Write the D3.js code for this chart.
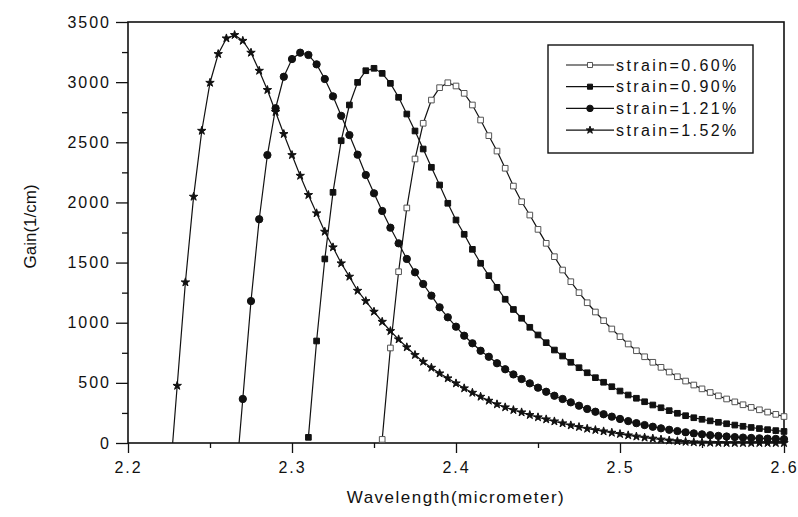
<!DOCTYPE html>
<html>
<head>
<meta charset="utf-8">
<script src="https://cdn.jsdelivr.net/npm/d3@7"></script>
<style>
  body { margin: 0; background: #fff; }
  text { font-family: "Liberation Sans", Arial, sans-serif; fill: #111; }
</style>
</head>
<body>
<div class="chart"></div>
<script>
// DATA
// ----------------------------
const seriesLabels = ['strain=0.60%', 'strain=0.90%', 'strain=1.21%', 'strain=1.52%']
// first wavelength of each curve, all curves sampled every 0.005 micrometer
const startWavelength = [2.355, 2.31, 2.265, 2.225]
const wavelengthStep = 0.005

const gain060 = [30, 790, 1424, 1954, 2361, 2658, 2851, 2954, 2995, 2968, 2907, 2810, 2685, 2555, 2427, 2284, 2136,
  2006, 1895, 1776, 1660, 1549, 1438, 1341, 1250, 1166, 1089, 1017, 948, 884, 823, 767, 717, 671, 629, 590, 551, 515, 482,
  450, 420, 392, 366, 342, 318, 296, 276, 257, 238, 220]
const gain090 = [47, 848, 1530, 2084, 2513, 2810, 2998, 3095, 3115, 3073, 2990, 2874, 2735, 2594, 2444, 2292, 2145, 1993, 1854,
  1735, 1610, 1494, 1391, 1294, 1195, 1110, 1037, 962, 898, 834, 773, 723, 671, 626, 584, 543, 505, 468, 432,
  399, 372, 343, 316, 293, 269, 247, 227, 210, 197, 184, 172, 160, 149, 139, 129, 120, 111, 103, 96]
const gain121 = [-440, 366, 1180, 1860, 2394, 2783, 3045, 3192, 3245, 3226, 3148, 3026, 2882, 2720, 2560, 2397, 2228, 2076,
  1929, 1790, 1660, 1530, 1419, 1322, 1225, 1128, 1045, 967, 892, 829, 767, 717, 663, 613, 570, 532, 496, 460, 426, 393,
  366, 338, 310, 283, 260, 239, 219, 200, 182, 165, 149, 135, 122, 110, 99, 89, 80, 72, 65, 59, 54, 49, 45, 42, 39, 36, 34, 32]
const gain152 = [-384, 476, 1336, 2048, 2596, 2995, 3234, 3364, 3392, 3344, 3245, 3095, 2935, 2752, 2569, 2394, 2222, 2062,
  1910, 1757, 1627, 1494, 1383, 1266, 1180, 1092, 1008, 931, 862, 796, 732, 676, 626, 579, 538, 496, 455, 418, 385, 352,
  322, 297, 274, 255, 233, 214, 197, 180, 164, 147, 133, 119, 108, 97, 86, 75, 64, 54, 45, 37, 29, 21, 15, 10, 6, 4, 2, 1,
  0, 0, 0, 0, 0, 0, 0, 0]

const xTicks = [2.2, 2.3, 2.4, 2.5, 2.6]
const yTicks = [0, 500, 1000, 1500, 2000, 2500, 3000, 3500]

const gains = [gain060, gain090, gain121, gain152]
const symbols = [d3.symbolSquare, d3.symbolSquare, d3.symbolCircle, d3.symbolStar]
const symbolSize = [32, 32, 42, 22]
const symbolFill = ['#fff', '#111', '#111', '#111']
const symbolStroke = ['#555', '#111', '#111', '#111']

const series = gains.map((g, i) => ({
  label: seriesLabels[i],
  points: g.map((v, j) => ({ x: startWavelength[i] + j * wavelengthStep, y: v }))
}))

// SETUP
// ----------------------------
const margin = { top: 22, bottom: 74, left: 128, right: 14 }
const fullWidth = 798
const fullHeight = 517
const width = fullWidth - margin.left - margin.right
const height = fullHeight - margin.top - margin.bottom

const svg = d3.select('.chart')
  .append('svg')
    .attr('width', fullWidth)
    .attr('height', fullHeight)
  .append('g')
    .attr('transform', `translate(${margin.left}, ${margin.top})`)

svg.append('clipPath')
    .attr('id', 'plot-clip')
  .append('rect')
    .attr('width', width)
    .attr('height', height)

// SCALES and AXES
// ----------------------------
const xScale = d3.scaleLinear().domain([2.2, 2.6]).range([0, width])
const yScale = d3.scaleLinear().domain([0, 3500]).range([height, 0])

// minor ticks first, then the labelled ones
svg.append('g')
    .attr('transform', `translate(0, ${height})`)
    .call(d3.axisBottom(xScale).tickValues(d3.range(2.25, 2.6, 0.1)).tickSize(5).tickFormat(''))
svg.append('g')
    .call(d3.axisLeft(yScale).tickValues(d3.range(250, 3500, 500)).tickSize(6).tickFormat(''))

const xAxis = svg.append('g')
    .attr('class', 'x-axis')
    .attr('transform', `translate(0, ${height})`)
    .call(d3.axisBottom(xScale).tickValues(xTicks).tickSize(10).tickPadding(9).tickFormat(d3.format('.1f')))
const yAxis = svg.append('g')
    .attr('class', 'y-axis')
    .call(d3.axisLeft(yScale).tickValues(yTicks).tickSize(12).tickPadding(5).tickFormat(d3.format('d')))

svg.selectAll('.domain').remove()
svg.selectAll('.tick line').attr('stroke', '#111').attr('stroke-width', 1.3)
svg.selectAll('.x-axis text, .y-axis text')
  .style('font-size', '16px')
  .style('letter-spacing', '2px')
  .attr('fill', '#222')

// frame
svg.append('rect')
    .attr('width', width)
    .attr('height', height)
    .attr('fill', 'none')
    .attr('stroke', '#111')
    .attr('stroke-width', 1.6)

// axis titles
svg.append('text')
    .attr('x', width / 2)
    .attr('y', height + 60)
    .attr('text-anchor', 'middle')
    .style('font-size', '17px')
    .style('letter-spacing', '1.5px')
    .text('Wavelength(micrometer)')
svg.append('text')
    .attr('transform', `translate(${-92}, ${height / 2 - 6}) rotate(-90)`)
    .attr('text-anchor', 'middle')
    .style('font-size', '17px')
    .text('Gain(1/cm)')

// CURVES
// ----------------------------
const line = d3.line().x(d => xScale(d.x)).y(d => yScale(d.y))

const curves = svg.append('g').selectAll('g')
  .data(series)
  .enter()
  .append('g')

curves.append('path')
    .attr('d', d => line(d.points))
    .attr('clip-path', 'url(#plot-clip)')
    .attr('fill', 'none')
    .attr('stroke', '#111')
    .attr('stroke-width', 1.2)

curves.each(function (d, i) {
  d3.select(this).selectAll('path.mark')
    .data(d.points.filter(p => p.y >= 0))
    .enter()
    .append('path')
      .attr('class', 'mark')
      .attr('transform', p => `translate(${xScale(p.x)}, ${yScale(p.y)})`)
      .attr('d', d3.symbol().type(symbols[i]).size(symbolSize[i]))
      .attr('fill', symbolFill[i])
      .attr('stroke', symbolStroke[i])
      .attr('stroke-width', 1)
})

// LEGEND
// ----------------------------
const legend = svg.append('g')
    .attr('transform', `translate(${548 - margin.left}, ${45 - margin.top})`)

legend.append('rect')
    .attr('width', 205)
    .attr('height', 108)
    .attr('fill', '#fff')
    .attr('stroke', '#111')
    .attr('stroke-width', 1.4)

const rows = legend.selectAll('g.row')
  .data(series)
  .enter()
  .append('g')
    .attr('class', 'row')
    .attr('transform', (d, i) => `translate(0, ${20 + i * 21.7})`)

rows.append('line')
    .attr('x1', 18).attr('x2', 66)
    .attr('stroke', '#111')
    .attr('stroke-width', 1.2)
rows.append('path')
    .attr('transform', 'translate(42, 0)')
    .attr('d', (d, i) => d3.symbol().type(symbols[i]).size(symbolSize[i] * 0.8)())
    .attr('fill', (d, i) => symbolFill[i])
    .attr('stroke', (d, i) => symbolStroke[i])
rows.append('text')
    .attr('x', 68)
    .attr('dy', '0.36em')
    .style('font-size', '16px')
    .style('letter-spacing', '2.4px')
    .text(d => d.label)
</script>
</body>
</html>
